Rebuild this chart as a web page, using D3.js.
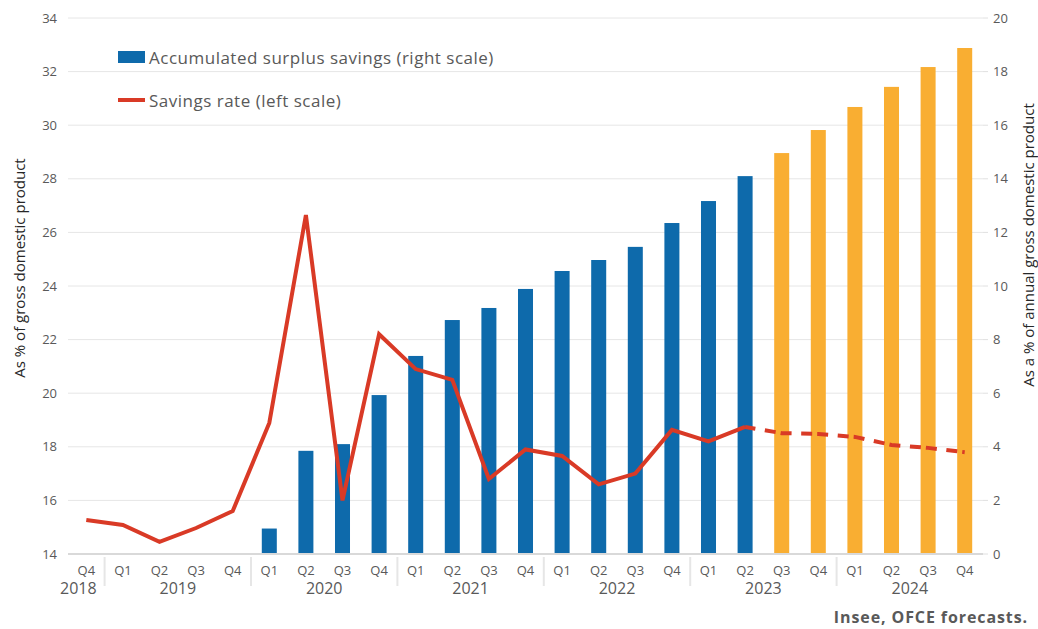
<!DOCTYPE html>
<html>
<head>
<meta charset="utf-8">
<script src="https://cdn.jsdelivr.net/npm/d3@7.9.0/dist/d3.min.js"></script>
<style>
  body { margin: 0; background: #fff; }
  svg { display: block; font-family: 'Open Sans', sans-serif; }
</style>
</head>
<body>
<div id="chart"></div>
<script>
// quarters from 2018 Q4 to 2024 Q4
const years = ['2018', '2019', '2020', '2021', '2022', '2023', '2024'];
const quarters = [
  ['2018', 'Q4'],
  ['2019', 'Q1'], ['2019', 'Q2'], ['2019', 'Q3'], ['2019', 'Q4'],
  ['2020', 'Q1'], ['2020', 'Q2'], ['2020', 'Q3'], ['2020', 'Q4'],
  ['2021', 'Q1'], ['2021', 'Q2'], ['2021', 'Q3'], ['2021', 'Q4'],
  ['2022', 'Q1'], ['2022', 'Q2'], ['2022', 'Q3'], ['2022', 'Q4'],
  ['2023', 'Q1'], ['2023', 'Q2'], ['2023', 'Q3'], ['2023', 'Q4'],
  ['2024', 'Q1'], ['2024', 'Q2'], ['2024', 'Q3'], ['2024', 'Q4'],
];

// accumulated surplus savings, % of annual GDP (right scale); null = no bar
const surplus = [
  null, null, null, null, null,
  0.95, 3.85, 4.1, 5.93,
  7.39, 8.73, 9.18, 9.89,
  10.56, 10.97, 11.46, 12.35,
  13.17, 14.1, 14.96, 15.82,
  16.68, 17.43, 18.17, 18.88,
];

// savings rate, % of GDP (left scale)
const savingsRate = [
  15.27,
  15.08, 14.45, 14.97, 15.6,
  18.89, 26.65, 16.0, 22.2,
  20.9, 20.5, 16.8, 17.9,
  17.66, 16.6, 17.0, 18.63,
  18.2, 18.74, 18.51, 18.48,
  18.37, 18.07, 17.96, 17.8,
];

// index of the first forecast quarter (2023 Q3)
const forecastStart = 19;

const leftTicks = [14, 16, 18, 20, 22, 24, 26, 28, 30, 32, 34];
const rightTicks = [0, 2, 4, 6, 8, 10, 12, 14, 16, 18, 20];

const width = 1038;
const height = 629;
const margin = { top: 18, right: 55, bottom: 75, left: 68 };

const blue = '#0e6aab';
const orange = '#f9ae32';
const red = '#d93a26';
const textColor = '#595959';

const svg = d3.select('#chart')
  .append('svg')
  .attr('width', width)
  .attr('height', height);

const x = d3.scaleBand()
  .domain(d3.range(quarters.length))
  .range([margin.left, width - margin.right])
  .paddingInner(0.59)
  .paddingOuter(0.295);

const step = x.step();
const xc = (i) => x(i) + x.bandwidth() / 2;

const yLeft = d3.scaleLinear()
  .domain([14, 34])
  .range([height - margin.bottom, margin.top]);

const yRight = d3.scaleLinear()
  .domain([0, 20])
  .range([height - margin.bottom, margin.top]);

const plotRight = width - margin.right;

// gridlines
svg.append('g')
  .attr('class', 'gridlines')
  .selectAll('line')
  .data(leftTicks.slice(1))
  .join('line')
  .attr('x1', margin.left)
  .attr('x2', plotRight)
  .attr('y1', (d) => yLeft(d))
  .attr('y2', (d) => yLeft(d))
  .attr('stroke', '#e6e6e6')
  .attr('stroke-width', 1);

// bars
svg.append('g')
  .attr('class', 'bars')
  .selectAll('rect')
  .data(surplus.map((v, i) => ({ v, i })).filter((d) => d.v !== null))
  .join('rect')
  .attr('x', (d) => x(d.i))
  .attr('width', x.bandwidth())
  .attr('y', (d) => yRight(d.v))
  .attr('height', (d) => yRight(0) - yRight(d.v))
  .attr('fill', (d) => (d.i >= forecastStart ? orange : blue));

// baseline
svg.append('line')
  .attr('x1', margin.left)
  .attr('x2', plotRight)
  .attr('y1', yLeft(14))
  .attr('y2', yLeft(14))
  .attr('stroke', '#d9d9d9')
  .attr('stroke-width', 2);

// savings rate line: observed part solid, forecast dashed
const line = d3.line()
  .x((d) => xc(d.i))
  .y((d) => yLeft(d.v));

const pts = savingsRate.map((v, i) => ({ v, i }));

svg.append('path')
  .datum(pts.slice(0, forecastStart))
  .attr('d', line)
  .attr('fill', 'none')
  .attr('stroke', red)
  .attr('stroke-width', 4)
  .attr('stroke-linejoin', 'miter');

svg.append('path')
  .datum(pts.slice(forecastStart - 1))
  .attr('d', line)
  .attr('fill', 'none')
  .attr('stroke', red)
  .attr('stroke-width', 4)
  .attr('stroke-dasharray', `11 5 11 ${step - 27}`)
  .attr('stroke-dashoffset', step - 20);

// left axis labels
svg.append('g')
  .selectAll('text')
  .data(leftTicks)
  .join('text')
  .attr('x', margin.left - 11)
  .attr('y', (d) => yLeft(d))
  .attr('dy', '0.35em')
  .attr('text-anchor', 'end')
  .attr('font-size', 13)
  .attr('fill', textColor)
  .text((d) => d);

// right axis labels and small ticks
svg.append('g')
  .selectAll('line')
  .data(rightTicks)
  .join('line')
  .attr('x1', plotRight)
  .attr('x2', plotRight + 5)
  .attr('y1', (d) => yRight(d))
  .attr('y2', (d) => yRight(d))
  .attr('stroke', '#e0e0e0');

svg.append('g')
  .selectAll('text')
  .data(rightTicks)
  .join('text')
  .attr('x', plotRight + 10)
  .attr('y', (d) => yRight(d))
  .attr('dy', '0.35em')
  .attr('text-anchor', 'start')
  .attr('font-size', 13)
  .attr('fill', textColor)
  .text((d) => d);

// quarter labels
const baseY = yLeft(14);
svg.append('g')
  .selectAll('text')
  .data(quarters)
  .join('text')
  .attr('x', (d, i) => xc(i))
  .attr('y', baseY + 21)
  .attr('text-anchor', 'middle')
  .attr('font-size', 13)
  .attr('fill', textColor)
  .text((d) => d[1]);

// year groups
const yearGroups = years.map((yr) => {
  const idx = quarters.map((q, i) => (q[0] === yr ? i : -1)).filter((i) => i >= 0);
  return { yr, first: idx[0], last: idx[idx.length - 1] };
});

svg.append('g')
  .selectAll('line')
  .data(yearGroups.slice(1))
  .join('line')
  .attr('x1', (d) => x(d.first) - step * x.paddingInner() / 2)
  .attr('x2', (d) => x(d.first) - step * x.paddingInner() / 2)
  .attr('y1', baseY + 3)
  .attr('y2', baseY + 32)
  .attr('stroke', '#e6e6e6')
  .attr('stroke-width', 2);

svg.append('g')
  .selectAll('text')
  .data(yearGroups)
  .join('text')
  .attr('x', (d) => d.first === 0 ? xc(0) - 8 : (xc(d.first) + xc(d.last)) / 2)
  .attr('y', baseY + 40)
  .attr('text-anchor', 'middle')
  .attr('font-size', 16)
  .attr('fill', textColor)
  .text((d) => d.yr);

// axis titles
svg.append('text')
  .attr('transform', `translate(25, ${268}) rotate(-90)`)
  .attr('text-anchor', 'middle')
  .attr('font-size', 15)
  .attr('fill', '#262626')
  .text('As % of gross domestic product');

svg.append('text')
  .attr('transform', `translate(1034, ${245}) rotate(-90)`)
  .attr('text-anchor', 'middle')
  .attr('font-size', 15)
  .attr('fill', '#262626')
  .text('As a % of annual gross domestic product');

// legend
const legend = svg.append('g').attr('transform', 'translate(118, 0)');
legend.append('rect')
  .attr('x', 0)
  .attr('y', 51)
  .attr('width', 27)
  .attr('height', 12)
  .attr('fill', blue);
legend.append('text')
  .attr('x', 31)
  .attr('y', 64)
  .attr('font-size', 17)
  .attr('letter-spacing', 0.5)
  .attr('fill', textColor)
  .text('Accumulated surplus savings (right scale)');
legend.append('line')
  .attr('x1', 0)
  .attr('x2', 27)
  .attr('y1', 100)
  .attr('y2', 100)
  .attr('stroke', red)
  .attr('stroke-width', 4);
legend.append('text')
  .attr('x', 31)
  .attr('y', 107)
  .attr('font-size', 17)
  .attr('letter-spacing', 0.5)
  .attr('fill', textColor)
  .text('Savings rate (left scale)');

// source
svg.append('text')
  .attr('x', 1028)
  .attr('y', 623)
  .attr('text-anchor', 'end')
  .attr('font-size', 16)
  .attr('font-weight', 700)
  .attr('letter-spacing', 0.9)
  .attr('fill', textColor)
  .text('Insee, OFCE forecasts.');
</script>
</body>
</html>
